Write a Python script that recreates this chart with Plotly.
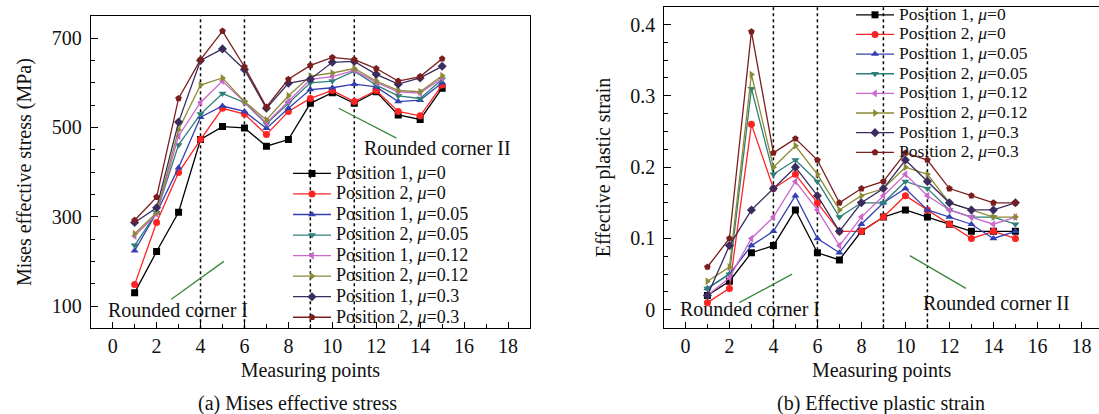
import plotly.graph_objects as go

# ---------------- data ----------------
points = list(range(1, 16))

series_names = [
    "Position 1, <i>μ</i>=0",
    "Position 2, <i>μ</i>=0",
    "Position 1, <i>μ</i>=0.05",
    "Position 2, <i>μ</i>=0.05",
    "Position 1, <i>μ</i>=0.12",
    "Position 2, <i>μ</i>=0.12",
    "Position 1, <i>μ</i>=0.3",
    "Position 2, <i>μ</i>=0.3",
]

# (a) Mises effective stress (MPa)
stress_p1_mu0 = [130, 222, 310, 473, 502, 499, 458, 473, 554, 578, 554, 580, 528, 518, 588]
stress_p2_mu0 = [148, 287, 399, 473, 543, 530, 484, 536, 565, 583, 558, 583, 536, 526, 595]
stress_p1_mu005 = [224, 309, 410, 523, 548, 536, 498, 543, 585, 589, 597, 591, 558, 561, 600]
stress_p2_mu005 = [236, 309, 461, 530, 576, 556, 508, 555, 600, 604, 626, 595, 571, 565, 608]
stress_p1_mu012 = [257, 306, 481, 556, 604, 557, 510, 558, 608, 614, 628, 601, 580, 577, 611]
stress_p2_mu012 = [262, 309, 495, 595, 611, 558, 517, 571, 615, 622, 632, 604, 583, 580, 616]
stress_p1_mu03 = [287, 320, 512, 650, 676, 630, 543, 599, 608, 646, 648, 619, 597, 611, 637]
stress_p2_mu03 = [292, 344, 565, 652, 716, 636, 546, 608, 639, 657, 652, 632, 604, 614, 654]

# (b) Effective plastic strain
strain_p1_mu0 = [0.02, 0.04, 0.08, 0.09, 0.14, 0.08, 0.07, 0.11, 0.13, 0.14, 0.13, 0.12, 0.11, 0.11, 0.11]
strain_p2_mu0 = [0.01, 0.03, 0.26, 0.17, 0.19, 0.15, 0.11, 0.11, 0.13, 0.16, 0.14, 0.12, 0.10, 0.11, 0.10]
strain_p1_mu005 = [0.03, 0.05, 0.09, 0.11, 0.16, 0.10, 0.08, 0.12, 0.15, 0.17, 0.14, 0.13, 0.12, 0.10, 0.11]
strain_p2_mu005 = [0.03, 0.05, 0.31, 0.19, 0.21, 0.18, 0.13, 0.15, 0.15, 0.18, 0.17, 0.14, 0.13, 0.13, 0.12]
strain_p1_mu012 = [0.02, 0.045, 0.10, 0.13, 0.18, 0.14, 0.09, 0.13, 0.16, 0.19, 0.16, 0.14, 0.13, 0.12, 0.13]
strain_p2_mu012 = [0.04, 0.06, 0.33, 0.20, 0.23, 0.19, 0.14, 0.16, 0.17, 0.20, 0.19, 0.15, 0.14, 0.13, 0.13]
strain_p1_mu03 = [0.02, 0.09, 0.14, 0.17, 0.20, 0.16, 0.11, 0.15, 0.17, 0.21, 0.18, 0.15, 0.14, 0.14, 0.15]
strain_p2_mu03 = [0.06, 0.10, 0.39, 0.22, 0.24, 0.21, 0.15, 0.17, 0.18, 0.22, 0.21, 0.17, 0.16, 0.15, 0.15]

# reference dashed verticals (measuring points at the rounded corners)
corner_points = [4, 6, 9, 11]

# callout labels: text, text position, pointer start, pointer end
stress_callouts = [
    ("Rounded corner I", 2.98, 92, 2.67, 115, 5.06, 200),
    ("Rounded corner II", 14.8, 453, 10.29, 543, 12.92, 476),
]
strain_callouts = [
    ("Rounded corner I", 2.95, 0.001, 2.45, 0.010, 4.85, 0.050),
    ("Rounded corner II", 14.15, 0.009, 10.2, 0.076, 12.75, 0.030),
]

# ---------------- style ----------------
colors = ["#000000", "#FF2424", "#3540B0", "#2E7F78", "#CC66CC", "#8C8A34", "#3B2C5E", "#7A1E1E"]
symbols = ["square", "circle", "triangle-up", "triangle-down", "triangle-left",
           "triangle-right", "diamond", "pentagon"]
FONT = "Liberation Serif, Times New Roman, serif"
W, H = 1099, 414

stress_series = [stress_p1_mu0, stress_p2_mu0, stress_p1_mu005, stress_p2_mu005,
                 stress_p1_mu012, stress_p2_mu012, stress_p1_mu03, stress_p2_mu03]
strain_series = [strain_p1_mu0, strain_p2_mu0, strain_p1_mu005, strain_p2_mu005,
                 strain_p1_mu012, strain_p2_mu012, strain_p1_mu03, strain_p2_mu03]

fig = go.Figure()

for i, (name, ys) in enumerate(zip(series_names, stress_series)):
    fig.add_trace(go.Scatter(
        x=points, y=ys, mode="lines+markers", xaxis="x", yaxis="y",
        name='<span style="font-size:18px">' + name + "</span>",
        line=dict(color=colors[i], width=1.3),
        marker=dict(symbol=symbols[i], size=7, color=colors[i]),
        legend="legend",
    ))

for i, (name, ys) in enumerate(zip(series_names, strain_series)):
    fig.add_trace(go.Scatter(
        x=points, y=ys, mode="lines+markers", xaxis="x2", yaxis="y2",
        name='<span style="font-size:17.5px">' + name + "</span>",
        line=dict(color=colors[i], width=1.3),
        marker=dict(symbol=symbols[i], size=7, color=colors[i]),
        legend="legend2",
    ))

# dashed verticals
shapes = []
for xa, ya in (("x", "y"), ("x2", "y2")):
    for cp in corner_points:
        shapes.append(dict(type="line", xref=xa, yref=ya + " domain", x0=cp, x1=cp, y0=0, y1=1,
                           line=dict(color="black", width=1.5, dash="dot"), layer="below"))

annotations = []
for xa, ya, callouts in (("x", "y", stress_callouts), ("x2", "y2", strain_callouts)):
    for text, tx, ty, lx0, ly0, lx1, ly1 in callouts:
        shapes.append(dict(type="line", xref=xa, yref=ya, x0=lx0, y0=ly0, x1=lx1, y1=ly1,
                           line=dict(color="#3A8A3A", width=1.3)))
        annotations.append(dict(text=text, x=tx, y=ty, xref=xa, yref=ya, showarrow=False,
                                font=dict(family=FONT, size=20, color="#111111"),
                                xanchor="center", yanchor="middle"))

annotations.append(dict(text="(a) Mises effective stress", x=297 / W, y=1 - 403 / H,
                        xref="paper", yref="paper", showarrow=False,
                        font=dict(family=FONT, size=20, color="#111111"),
                        xanchor="center", yanchor="middle"))
annotations.append(dict(text="(b) Effective plastic strain", x=881 / W, y=1 - 403 / H,
                        xref="paper", yref="paper", showarrow=False,
                        font=dict(family=FONT, size=20, color="#111111"),
                        xanchor="center", yanchor="middle"))

axis_common = dict(
    showline=True, linecolor="black", linewidth=1, mirror=True,
    showgrid=False, zeroline=False, ticks="inside", tickcolor="black",
    tickfont=dict(family=FONT, size=20, color="#111111"),
    title_font=dict(family=FONT, size=20, color="#111111"),
    automargin=False,
)

fig.update_layout(
    width=W, height=H,
    margin=dict(l=0, r=0, t=0, b=0, pad=0),
    paper_bgcolor="white", plot_bgcolor="white",
    font=dict(family=FONT, size=20, color="#111111"),
    xaxis=dict(axis_common, domain=[90.7 / W, 530 / W], anchor="y",
               range=[-1, 19], tick0=0, dtick=2, ticklen=6,
               minor=dict(dtick=1, ticks="inside", ticklen=4, tickcolor="black"),
               title=dict(text="Measuring points", standoff=6), ticklabelstandoff=0),
    yaxis=dict(axis_common, domain=[1 - 327.3 / H, 1 - 11 / H], anchor="x",
               range=[50, 750], tick0=100, dtick=200, ticklen=7,
               minor=dict(dtick=50, ticks="inside", ticklen=4, tickcolor="black"),
               title=dict(text="Mises effective stress (MPa)", standoff=14), ticklabelstandoff=4),
    xaxis2=dict(axis_common, domain=[664.3 / W, 1.0], anchor="y2",
                range=[-0.96, 18.8], tick0=0, dtick=2, ticklen=6,
                minor=dict(dtick=1, ticks="inside", ticklen=4, tickcolor="black"),
                title=dict(text="Measuring points", standoff=6), ticklabelstandoff=0),
    yaxis2=dict(axis_common, domain=[1 - 327.3 / H, 1 - 1.7 / H], anchor="x2",
                range=[-0.026, 0.425], tick0=0, dtick=0.1, ticklen=7,
                minor=dict(dtick=0.025, ticks="inside", ticklen=4, tickcolor="black"),
                title=dict(text="Effective plastic strain", standoff=14), ticklabelstandoff=4),
    legend=dict(x=288 / W, y=1 - 155 / H, xanchor="left", yanchor="top",
                bgcolor="rgba(0,0,0,0)", borderwidth=0, itemwidth=38,
                font=dict(family=FONT, size=13.5, color="#111111"), tracegroupgap=0),
    legend2=dict(x=851 / W, y=1 + 5.4 / H, xanchor="left", yanchor="top",
                 bgcolor="rgba(0,0,0,0)", borderwidth=0, itemwidth=38,
                 font=dict(family=FONT, size=12.8, color="#111111"), tracegroupgap=0),
    shapes=shapes,
    annotations=annotations,
    showlegend=True,
)

fig.write_html("out.html")
